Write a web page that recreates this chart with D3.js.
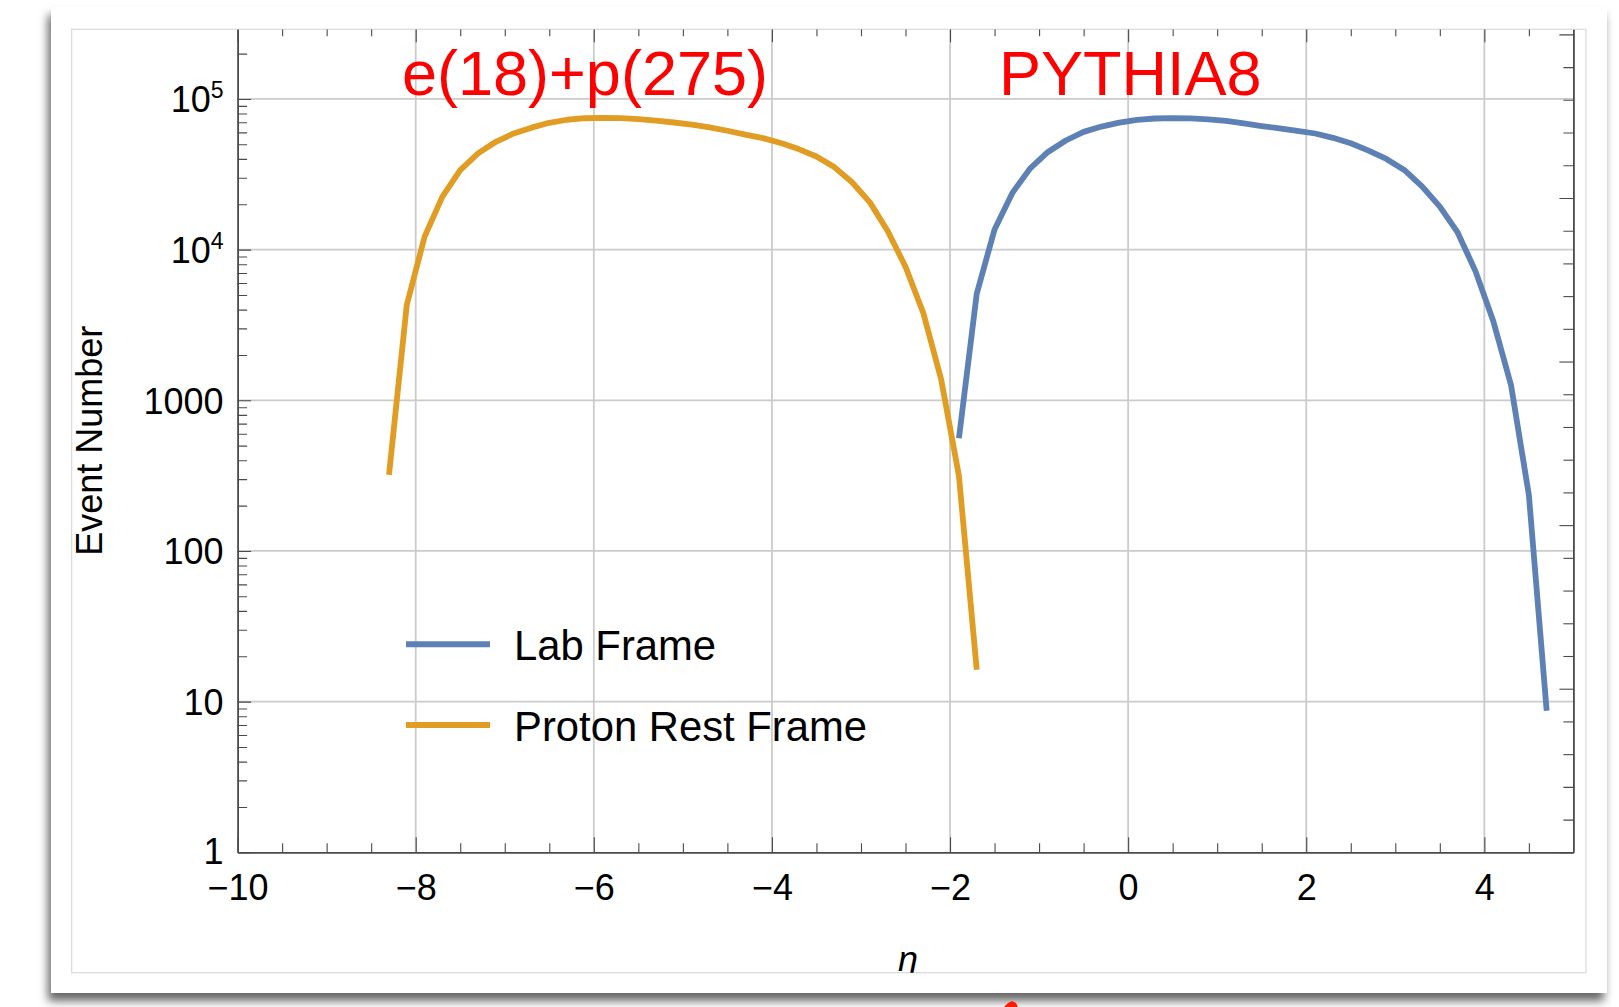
<!DOCTYPE html>
<html>
<head>
<meta charset="utf-8">
<script src="https://cdn.jsdelivr.net/npm/d3@7"></script>
<style>
  html, body { margin: 0; padding: 0; background: #ffffff; }
  svg { display: block; font-family: "Liberation Sans", Arial, Helvetica, sans-serif; }
</style>
</head>
<body>
<svg id="chart" width="1619" height="1007"></svg>
<script>
// Pseudorapidity distributions, e(18 GeV) + p(275 GeV), PYTHIA8
const labEta = [-1.9, -1.7, -1.5, -1.3, -1.1, -0.9, -0.7, -0.5, -0.3, -0.1,
                 0.1, 0.3, 0.5, 0.7, 0.9, 1.1, 1.3, 1.5, 1.7, 1.9,
                 2.1, 2.3, 2.5, 2.7, 2.9, 3.1, 3.3, 3.5, 3.7, 3.9,
                 4.1, 4.3, 4.5, 4.7];
const labCounts = [560, 5100, 13600, 23800, 34600, 44500, 53000, 60500, 65600, 69600,
                   72600, 74200, 74700, 74300, 73200, 71500, 68800, 66100, 63800, 61500,
                   59000, 55200, 50800, 45400, 40000, 33800, 26300, 19300, 13000, 7200,
                   3360, 1260, 235, 8.7];

const protonEta = [-8.3, -8.1, -7.9, -7.7, -7.5, -7.3, -7.1, -6.9, -6.7, -6.5,
                   -6.3, -6.1, -5.9, -5.7, -5.5, -5.3, -5.1, -4.9, -4.7, -4.5,
                   -4.3, -4.1, -3.9, -3.7, -3.5, -3.3, -3.1, -2.9, -2.7, -2.5,
                   -2.3, -2.1, -1.9, -1.7];
const protonCounts = [320, 4300, 12200, 22500, 33700, 43500, 52000, 59000, 64500, 69500,
                      72800, 74500, 75000, 74700, 73600, 71800, 69800, 67500, 64800, 61500,
                      58000, 55000, 51000, 46500, 41500, 35300, 28000, 20600, 13300, 7700,
                      3800, 1380, 315, 16.3];

const seriesNames = ["Lab Frame", "Proton Rest Frame"];
const seriesColors = ["#5e81b5", "#e19c24"];

const xTickValues = [-10, -8, -6, -4, -2, 0, 2, 4];
const yTickValues = [1, 10, 100, 1000, 10000, 100000];
const yTickLabels = ["1", "10", "100", "1000", "10|4", "10|5"];

const titleLeft = "e(18)+p(275)";
const titleRight = "PYTHIA8";
const xLabel = "η";
const yLabel = "Event Number";

const svg = d3.select("#chart");

// ---- slide card with drop shadow and image border ----
const defs = svg.append("defs");
const f = defs.append("filter").attr("id", "cardShadow")
  .attr("x", "-3%").attr("y", "-3%").attr("width", "106%").attr("height", "110%");
f.append("feDropShadow").attr("dx", -3).attr("dy", 8).attr("stdDeviation", 5)
  .attr("flood-color", "#000").attr("flood-opacity", 0.6);

svg.append("rect").attr("x", 51).attr("y", 7).attr("width", 1556).attr("height", 986)
  .attr("fill", "#fff").attr("filter", "url(#cardShadow)");

const frame = { left: 71.6, top: 29.3, right: 1586, bottom: 972.7 };
defs.append("clipPath").attr("id", "imgClip").append("rect")
  .attr("x", frame.left).attr("y", frame.top)
  .attr("width", frame.right - frame.left).attr("height", frame.bottom - frame.top);

svg.append("rect").attr("x", frame.left).attr("y", frame.top)
  .attr("width", frame.right - frame.left).attr("height", frame.bottom - frame.top)
  .attr("fill", "#fff").attr("stroke", "#dcdcdc").attr("stroke-width", 1.3);

// small red pointer mark under the card
svg.append("path").attr("d", "M1004,1007 L1008,1003 L1012,1001 L1016,1003 L1018,1007 Z")
  .attr("fill", "#ff1a00");

// ---- plot ----
const plot = { left: 237.6, right: 1573.4, top: 29.3, bottom: 852.3 };
const x = d3.scaleLinear().domain([-10, 5]).range([plot.left, plot.right]);
const y = d3.scaleLog().domain([1, 2.9e5]).range([plot.bottom, plot.top]);

const g = svg.append("g").attr("clip-path", "url(#imgClip)");

// grid
const gridColor = "#cbcbcb";
g.append("g").selectAll("line").data(xTickValues.filter(v => v > -10))
  .join("line")
  .attr("x1", d => x(d)).attr("x2", d => x(d))
  .attr("y1", plot.top).attr("y2", plot.bottom)
  .attr("stroke", gridColor).attr("stroke-width", 1.8);
g.append("g").selectAll("line").data(yTickValues.filter(v => v > 1))
  .join("line")
  .attr("x1", plot.left).attr("x2", plot.right)
  .attr("y1", d => y(d)).attr("y2", d => y(d))
  .attr("stroke", gridColor).attr("stroke-width", 1.8);

// axes
const axisColor = "#4a4a4a";
const fmtX = d => d < 0 ? "\u2212" + Math.abs(d) : String(d);

function styleAxis(sel, showDomain) {
  sel.select(".domain").attr("stroke", showDomain ? axisColor : "none").attr("stroke-width", 1.8);
  sel.selectAll(".tick line").attr("stroke", axisColor).attr("stroke-width", 1.1);
  sel.selectAll("text").attr("fill", "#000").attr("font-size", 36)
    .attr("font-family", "\"Liberation Sans\", Arial, Helvetica, sans-serif");
}

const xMinor = d3.range(-10, 5.01, 0.5).filter(v => !xTickValues.includes(v) && v < 5);
const yMinor = [];
for (let e = 0; e <= 5; e++) for (let m = 2; m <= 9; m++) {
  const v = m * Math.pow(10, e);
  if (v < 2.9e5) yMinor.push(v);
}

// bottom
g.append("g").attr("transform", `translate(0,${plot.bottom})`)
  .call(d3.axisBottom(x).tickValues(xMinor).tickSizeInner(-9).tickSizeOuter(0).tickFormat(""))
  .call(s => styleAxis(s, false));
g.append("g").attr("transform", `translate(0,${plot.bottom})`)
  .call(d3.axisBottom(x).tickValues(xTickValues).tickSizeInner(-15).tickSizeOuter(0)
    .tickPadding(22).tickFormat(fmtX))
  .call(s => styleAxis(s, true));

// top
g.append("g").attr("transform", `translate(0,${plot.top})`)
  .call(d3.axisTop(x).tickValues(xMinor).tickSizeInner(-7).tickSizeOuter(0).tickFormat(""))
  .call(s => styleAxis(s, false));
g.append("g").attr("transform", `translate(0,${plot.top})`)
  .call(d3.axisTop(x).tickValues(xTickValues).tickSizeInner(-13).tickSizeOuter(0).tickFormat(""))
  .call(s => styleAxis(s, false));

// left
g.append("g").attr("transform", `translate(${plot.left},0)`)
  .call(d3.axisLeft(y).tickValues(yMinor).tickSizeInner(-9.5).tickSizeOuter(0).tickFormat(""))
  .call(s => styleAxis(s, false));
const leftAxis = g.append("g").attr("transform", `translate(${plot.left},0)`)
  .call(d3.axisLeft(y).tickValues(yTickValues).tickSizeInner(-13.5).tickSizeOuter(0)
    .tickPadding(14).tickFormat((d, i) => yTickLabels[i]))
  .call(s => styleAxis(s, true));
leftAxis.selectAll(".tick text").each(function(d) {
  const t = d3.select(this);
  const label = t.text();
  t.attr("dy", d === 1 ? "0.3em" : "0.36em");
  if (label.includes("|")) {
    const [base, exp] = label.split("|");
    t.text(null);
    t.append("tspan").text(base);
    t.append("tspan").attr("font-size", 23).attr("dy", "-0.62em").text(exp);
  }
});

// right (natural-log spaced ticks)
const rightTicks = d3.range(0, 12.51, 0.5).map(Math.exp);
const rightMajor = rightTicks.filter((v, i) => i % 5 === 0);
const rightMinor = rightTicks.filter((v, i) => i % 5 !== 0);
g.append("g").attr("transform", `translate(${plot.right},0)`)
  .call(d3.axisRight(y).tickValues(rightMinor).tickSizeInner(-10).tickSizeOuter(0).tickFormat(""))
  .call(s => styleAxis(s, true));
g.append("g").attr("transform", `translate(${plot.right},0)`)
  .call(d3.axisRight(y).tickValues(rightMajor).tickSizeInner(-14).tickSizeOuter(0).tickFormat(""))
  .call(s => styleAxis(s, false));

// curves
const line = d3.line().x(d => x(d[0])).y(d => y(d[1]));
const series = [
  d3.zip(labEta, labCounts),
  d3.zip(protonEta, protonCounts)
];
g.append("g").selectAll("path").data(series).join("path")
  .attr("d", line)
  .attr("fill", "none")
  .attr("stroke", (d, i) => seriesColors[i])
  .attr("stroke-width", 5.8)
  .attr("stroke-linejoin", "round");

// legend
const legendY = [644.3, 725];
const lg = g.append("g");
lg.selectAll("line").data(seriesNames).join("line")
  .attr("x1", 406).attr("x2", 490)
  .attr("y1", (d, i) => legendY[i]).attr("y2", (d, i) => legendY[i])
  .attr("stroke", (d, i) => seriesColors[i]).attr("stroke-width", 6);
lg.selectAll("text").data(seriesNames).join("text")
  .attr("x", 514).attr("y", (d, i) => legendY[i] + 15.5)
  .attr("font-size", 41.8).attr("fill", "#000")
  .text(d => d);

// titles
g.append("text").attr("x", 402).attr("y", 95).attr("font-size", 63).attr("fill", "#ff0000")
  .text(titleLeft);
g.append("text").attr("x", 999).attr("y", 94.5).attr("font-size", 63).attr("fill", "#ff0000")
  .text(titleRight);

// axis titles
g.append("text")
  .attr("transform", `translate(102,${(plot.top + plot.bottom) / 2}) rotate(-90)`)
  .attr("text-anchor", "middle").attr("font-size", 36).attr("fill", "#000")
  .text(yLabel);
g.append("text").attr("x", 908).attr("y", 970.5)
  .attr("text-anchor", "middle").attr("font-size", 36).attr("font-style", "italic")
  .attr("fill", "#000").text(xLabel);
</script>
</body>
</html>
